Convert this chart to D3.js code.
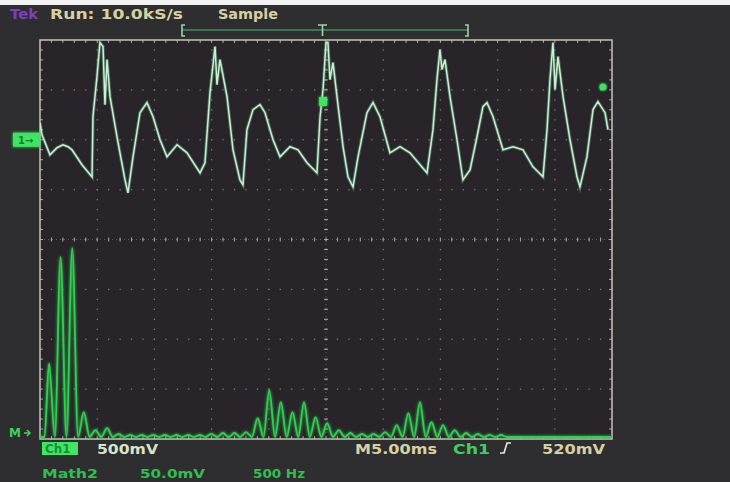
<!DOCTYPE html>
<html><head><meta charset="utf-8">
<script src="https://cdn.jsdelivr.net/npm/d3@7"></script>
<style>
html,body{margin:0;padding:0;background:#2e2e30;}
svg{display:block;}
text{font-family:"DejaVu Sans",sans-serif;font-weight:bold;}
</style></head>
<body>
<script>
// ---- Data ----
// Channel 1 trace: time (ms) and voltage (mV, relative to ground marker)
const ch1Time = [0.00,0.17,0.87,1.49,2.01,2.45,2.80,3.67,4.55,4.63,4.98,5.24,5.51,5.68,5.86,6.12,6.73,7.43,7.69,8.13,8.74,9.35,9.88,10.49,11.10,11.98,12.85,13.99,14.42,14.86,15.30,15.47,15.73,16.35,16.87,17.48,17.74,18.09,18.62,19.23,19.67,20.37,20.98,21.85,22.55,23.34,24.21,24.48,24.74,25.00,25.17,25.35,25.61,25.96,26.49,26.92,27.36,27.80,28.58,29.11,29.72,30.59,31.47,32.34,33.83,34.35,34.70,34.96,35.14,35.40,35.84,36.45,36.97,37.59,38.20,38.72,39.07,39.60,40.47,41.35,42.22,43.09,43.97,44.32,44.58,44.84,45.02,45.28,45.72,46.33,46.94,47.20,47.81,48.34,48.77,49.39,49.65];
const ch1mV = [171,50,-151,-80,-50,-70,-101,-251,-372,231,633,975,935,352,804,432,30,-402,-533,-171,271,372,231,0,-171,-50,-131,-332,-231,472,935,553,804,432,-101,-402,-452,101,302,352,271,0,-171,-70,-101,-231,-332,231,503,975,975,603,774,432,-70,-372,-472,-171,271,372,231,-131,-70,-131,-332,101,603,905,704,804,432,0,-402,-302,30,332,372,231,-101,-70,-101,-271,-372,101,603,975,503,834,432,0,-372,-472,-171,302,382,271,101];
// Math2 (FFT) harmonic peaks: frequency (Hz) and magnitude (mV)
const fftFreq = [79,180,282,383,484,586,687,788,890,991,1092,1193,1295,1396,1497,1599,1700,1801,1903,2004,2105,2207,2308,2409,2510,2612,2713,2814,2916,3017,3118,3220,3321,3422,3523,3625,3726,3827,3929,4030];
const fftMag  = [74,181,190,25,7,9,3,2,2,2,2,2,2,2,3,4,4,5,19,47,35,25,35,20,14,7,4,3,3,5,12,24,35,15,12,7,4,3,2,2];
// Labels
const headerLabels = [{t:"Tek",c:"#7b3fc4",x:10,w:28},{t:"Run: 10.0kS/s",c:"#d8d0a2",x:50,w:133},{t:"Sample",c:"#d8d0a2",x:218,w:60}];
const statusRow1 = [{t:"500mV",c:"#d6e4c8",x:97,w:61},{t:"M5.00ms",c:"#d8d0a2",x:355,w:82},{t:"Ch1",c:"#3fcf5c",x:453,w:37},{t:"520mV",c:"#d8d0a2",x:542,w:63}];
const statusRow2 = [{t:"Math2",c:"#2fbf4c",x:42,w:56},{t:"50.0mV",c:"#2fbf4c",x:140,w:65},{t:"500 Hz",c:"#2fbf4c",x:253,w:52}];

// ---- Layout ----
const W=730,H=482, gx0=40, gx1=612, gy0=40, gy1=439;
const svg = d3.select("body").append("svg").attr("width",W).attr("height",H);
const defs = svg.append("defs");
const glow = defs.append("filter").attr("id","glow").attr("x","-20%").attr("y","-20%").attr("width","140%").attr("height","140%");
glow.append("feGaussianBlur").attr("stdDeviation",1.6).attr("result","b");
const fm = glow.append("feMerge"); fm.append("feMergeNode").attr("in","b"); fm.append("feMergeNode").attr("in","SourceGraphic");
defs.append("clipPath").attr("id","clip").append("rect").attr("x",gx0).attr("y",gy0).attr("width",gx1-gx0).attr("height",gy1-gy0);

svg.append("rect").attr("width",W).attr("height",H).attr("fill","#2e2e30");
svg.append("rect").attr("width",W).attr("height",5).attr("fill","#f2f2f2");
svg.append("rect").attr("x",gx0).attr("y",gy0).attr("width",gx1-gx0).attr("height",gy1-gy0).attr("fill","#29242a");

const x = d3.scaleLinear().domain([0,50]).range([gx0,gx1]);        // 5 ms/div
const y1 = d3.scaleLinear().domain([-3000,1000]).range([gy1,gy0]); // 500 mV/div
const fx = d3.scaleLinear().domain([0,5000]).range([gx0,gx1]);     // 500 Hz/div
const fy = d3.scaleLinear().domain([0,400]).range([437,39]);       // 50 mV/div

// ---- Graticule ----
const g = svg.append("g");
const dx = (gx1-gx0)/50, dy = (gy1-gy0)/40;
const gridCol = "#7d7a72";
for (let k=1;k<10;k++){
  const xx = gx0 + k*(gx1-gx0)/10;
  for (let j=1;j<40;j++){
    g.append("rect").attr("x",xx-0.6).attr("y",gy0+j*dy-0.6).attr("width",1.3).attr("height",1.3).attr("fill",gridCol);
  }
}
for (let k=1;k<8;k++){
  const yy = gy0 + k*(gy1-gy0)/8;
  for (let j=1;j<50;j++){
    g.append("rect").attr("x",gx0+j*dx-0.6).attr("y",yy-0.6).attr("width",1.3).attr("height",1.3).attr("fill",gridCol);
  }
}
const cx = (gx0+gx1)/2, cy=(gy0+gy1)/2;
const tickCol="#a8a69a";
for (let j=1;j<40;j++){ const yy=gy0+j*dy; g.append("line").attr("x1",cx-2).attr("x2",cx+2).attr("y1",yy).attr("y2",yy).attr("stroke",tickCol).attr("stroke-width",1);
  g.append("line").attr("x1",gx0).attr("x2",gx0+3).attr("y1",yy).attr("y2",yy).attr("stroke",tickCol);
  g.append("line").attr("x1",gx1-3).attr("x2",gx1).attr("y1",yy).attr("y2",yy).attr("stroke",tickCol);}
for (let j=1;j<50;j++){ const xx=gx0+j*dx; g.append("line").attr("y1",cy-2).attr("y2",cy+2).attr("x1",xx).attr("x2",xx).attr("stroke",tickCol).attr("stroke-width",1);
  g.append("line").attr("y1",gy0).attr("y2",gy0+3).attr("x1",xx).attr("x2",xx).attr("stroke",tickCol);
  g.append("line").attr("y1",gy1-3).attr("y2",gy1).attr("x1",xx).attr("x2",xx).attr("stroke",tickCol);}
g.append("line").attr("x1",cx).attr("x2",cx).attr("y1",gy0).attr("y2",gy1).attr("stroke","#8a877d").attr("stroke-width",0.6).attr("stroke-dasharray","1,3");
g.append("line").attr("y1",cy).attr("y2",cy).attr("x1",gx0).attr("x2",gx1).attr("stroke","#8a877d").attr("stroke-width",0.6).attr("stroke-dasharray","1,3");
g.append("rect").attr("x",gx0).attr("y",gy0).attr("width",gx1-gx0).attr("height",gy1-gy0).attr("fill","none").attr("stroke","#cfcfc2").attr("stroke-width",1.4);

// ---- FFT trace ----
const fftPts = [{f:0,v:0}];
fftFreq.forEach((f,i)=>{
  const prev = i>0 ? fftFreq[i-1] : 0;
  fftPts.push({f:(prev+f)/2, v:0});
  fftPts.push({f:f, v:fftMag[i]});
});
const lastF = fftFreq[fftFreq.length-1];
fftPts.push({f:lastF+ (lastF-fftFreq[fftFreq.length-2])/2, v:0});
fftPts.push({f:5000, v:0});
const fftLine = d3.line().x(d=>fx(d.f)).y(d=>fy(d.v)).curve(d3.curveMonotoneX);
const pg = svg.append("g").attr("clip-path","url(#clip)");
pg.append("path").datum(fftPts).attr("d",fftLine).attr("fill","none").attr("stroke","#2fd050").attr("stroke-width",1.8).attr("filter","url(#glow)");

// ---- Ch1 trace ----
const ch1 = ch1Time.map((t,i)=>({t, v:ch1mV[i]}));
const ch1Line = d3.line().x(d=>x(d.t)).y(d=>y1(d.v));
pg.append("path").datum(ch1).attr("d",ch1Line).attr("fill","none").attr("stroke","#7fd39a").attr("stroke-width",3.4).attr("opacity",0.35);
pg.append("path").datum(ch1).attr("d",ch1Line).attr("fill","none").attr("stroke","#c4f2d2").attr("stroke-width",1.5);

// ---- Markers ----
svg.append("rect").attr("x",13).attr("y",y1(0)-7).attr("width",27).attr("height",14).attr("fill","#3ee662").attr("filter","url(#glow)");
svg.append("text").attr("x",18).attr("y",y1(0)+4).attr("font-size",10).attr("fill","#1f7a33").text("1→");
svg.append("rect").attr("x",x(24.4)).attr("y",97).attr("width",8).attr("height",9).attr("fill","#3ee662").attr("filter","url(#glow)");
svg.append("circle").attr("cx",603).attr("cy",87).attr("r",3.5).attr("fill","#3ee662").attr("filter","url(#glow)");
svg.append("text").attr("x",9).attr("y",437).attr("font-size",12).attr("fill","#3fcf5c").text("M");
svg.append("path").attr("d","M24,433 L30,433 M27,430 L30,433 L27,436").attr("stroke","#3fcf5c").attr("stroke-width",1.5).attr("fill","none");

// Trigger position bar
const tb = svg.append("g").attr("stroke","#3f8f5d").attr("stroke-width",1.6).attr("fill","none");
tb.append("line").attr("x1",182).attr("x2",468).attr("y1",30).attr("y2",30);
tb.append("path").attr("d","M185,25 L182,25 L182,36 L185,36").attr("stroke","#9ad2a8");
tb.append("path").attr("d","M465,25 L468,25 L468,36 L465,36").attr("stroke","#9ad2a8");
tb.append("path").attr("d","M318,25 L327,25 M322.5,25 L322.5,36").attr("stroke","#9ad2a8");

// ---- Text ----
function labels(cls, data, yy, fs){
  svg.selectAll("text."+cls).data(data).join("text").attr("class",cls)
    .attr("x",d=>d.x).attr("y",yy).attr("font-size",fs).attr("fill",d=>d.c)
    .attr("textLength",d=>d.w).attr("lengthAdjust","spacingAndGlyphs").text(d=>d.t);
}
labels("h", headerLabels, 19, 14);
svg.append("rect").attr("x",42).attr("y",442).attr("width",36).attr("height",13).attr("fill","#3ee662");
svg.append("text").attr("x",45).attr("y",453).attr("font-size",12).attr("fill","#1d8a3a").text("Ch1");
labels("s1", statusRow1, 454, 14);
svg.append("path").attr("d","M500,453 L504,453 L507,443 L511,443").attr("stroke","#e8e8e0").attr("stroke-width",1.6).attr("fill","none");
labels("s2", statusRow2, 478, 13);
</script>
</body></html>
